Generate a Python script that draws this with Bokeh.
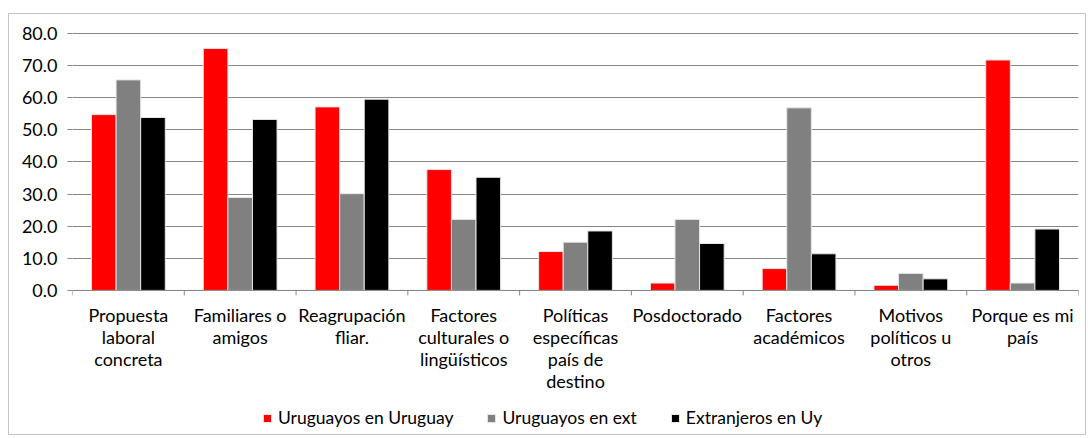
from bokeh.plotting import figure
from bokeh.models import (ColumnDataSource, Range1d, FixedTicker, LabelSet,
                          Legend, LegendItem, NumeralTickFormatter)
from bokeh.embed import file_html
from bokeh.resources import INLINE
from bokeh.core.properties import value, field

categories = [
    "Propuesta\nlaboral\nconcreta",
    "Familiares o\namigos",
    "Reagrupación\nfliar.",
    "Factores\nculturales o\nlingüísticos",
    "Políticas\nespecíficas\npaís de\ndestino",
    "Posdoctorado",
    "Factores\nacadémicos",
    "Motivos\npolíticos u\notros",
    "Porque es mi\npaís",
]
series_names = ["Uruguayos en Uruguay", "Uruguayos en ext", "Extranjeros en Uy"]
uru_uy = [54.7, 75.3, 57.1, 37.6, 12.1, 2.3, 6.8, 1.6, 71.7]
uru_ext = [65.5, 28.9, 30.1, 22.1, 15.0, 22.1, 56.8, 5.3, 2.3]
extr_uy = [53.8, 53.2, 59.5, 35.2, 18.5, 14.6, 11.4, 3.6, 19.1]
colors = ["#FF0000", "#808080", "#000000"]
y_ticks = [0, 10, 20, 30, 40, 50, 60, 70, 80]

FONT = "Lato"
n = len(categories)
centers = [i + 0.5 for i in range(n)]
bounds = list(range(n + 1))

# layout geometry (pixels)
H = 422
TOP = 19               # canvas top -> value 80
PLOT_H = 257           # 80 -> 0
BELOW = H - TOP - PLOT_H
ymax = y_ticks[-1]
ppu = PLOT_H / ymax
y_start = -BELOW / ppu
y_end = ymax + 0.8 / ppu

p = figure(width=1078, height=H, output_backend="svg", toolbar_location=None,
           x_range=Range1d(0, n), y_range=Range1d(y_start, y_end),
           x_axis_location=None,
           min_border_left=63, min_border_right=9, min_border_top=TOP - 1,
           min_border_bottom=0, margin=0)
p.styles = {"border": "1px solid #c4c4c4", "margin": "13px 0px 0px 8px"}
p.outline_line_color = None
p.background_fill_color = "white"
p.border_fill_color = "white"

bw = 0.22
offsets = [-bw, 0.0, bw]
renderers = []
for vals, off, col in zip([uru_uy, uru_ext, extr_uy], offsets, colors):
    src = ColumnDataSource(dict(x=[c + off for c in centers], top=vals))
    r = p.vbar(x="x", top="top", width=bw, bottom=0, source=src,
               fill_color=col, line_color="#e6e6e6", line_width=1)
    renderers.append(r)

# category axis line and boundary ticks
p.segment(x0=[0], y0=[0], x1=[n], y1=[0], line_color="#868686", line_width=1)
p.segment(x0=bounds, y0=[0] * len(bounds), x1=bounds,
          y1=[-5 / ppu] * len(bounds), line_color="#868686", line_width=1)

# category labels, one label per line so every line is centred
lx, ly, lt, ldy = [], [], [], []
for c, lab in zip(centers, categories):
    for k, line in enumerate(lab.split("\n")):
        lx.append(c)
        ly.append(0)
        lt.append(line)
        ldy.append(-25 - 22 * k)
lab_src = ColumnDataSource(dict(x=lx, y=ly, text=lt, dy=ldy))
p.add_layout(LabelSet(x="x", y="y", text="text", source=lab_src,
                      y_offset=field("dy"), text_align="center",
                      text_baseline="middle",
                      text_font=value(FONT), text_font_size="18px",
                      text_color="#000000"))

p.yaxis.ticker = FixedTicker(ticks=y_ticks)
p.yaxis.formatter = NumeralTickFormatter(format="0.0")
p.yaxis.axis_line_color = None
p.yaxis.major_tick_line_color = "#868686"
p.yaxis.major_tick_out = 5
p.yaxis.major_tick_in = 0
p.yaxis.minor_tick_line_color = None
p.yaxis.major_label_text_font = FONT
p.yaxis.major_label_text_font_size = "18px"
p.yaxis.major_label_text_color = "#000000"
p.yaxis.major_label_standoff = 10

p.xgrid.grid_line_color = None
p.ygrid.ticker = FixedTicker(ticks=y_ticks)
p.ygrid.grid_line_color = "#868686"
p.ygrid.grid_line_width = 1

legend = Legend(items=[LegendItem(label=nm, renderers=[r])
                       for nm, r in zip(series_names, renderers)],
                orientation="horizontal", location=(190, 8),
                padding=0, margin=0, spacing=33, label_standoff=6,
                glyph_width=10, glyph_height=10, label_height=20,
                label_text_font=FONT, label_text_font_size="17.5px",
                label_text_color="#000000",
                border_line_color=None, background_fill_alpha=0)
p.add_layout(legend, "center")

open("out.html", "w").write(file_html(p, INLINE))
